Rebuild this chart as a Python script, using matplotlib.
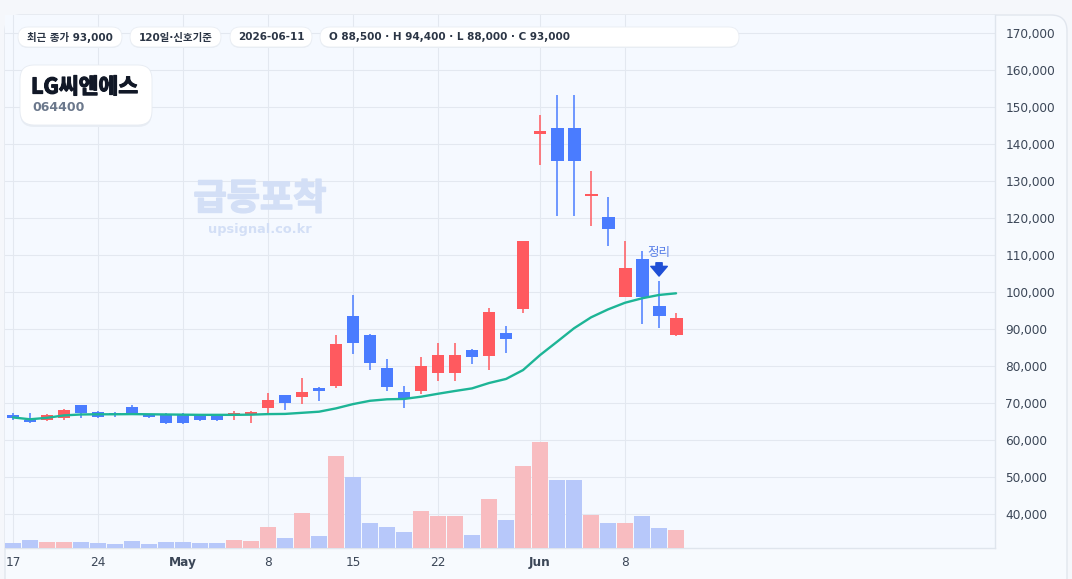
import matplotlib
matplotlib.use("Agg")
import matplotlib.pyplot as plt
import matplotlib.patheffects as pe
import numpy as np
import pandas as pd
from matplotlib.patches import FancyBboxPatch
from matplotlib.transforms import IdentityTransform
from matplotlib.ticker import FuncFormatter

plt.rcParams['font.family'] = ['DejaVu Sans', 'Noto Sans CJK KR']

# trading days shown (weekends skipped)
dates = pd.bdate_range("2026-04-17", "2026-06-11")

opens = [66800, 65400, 65500, 66000, 69450, 67550, 67300, 68900, 67000, 67000,
         67000, 66750, 66700, 66700, 66750, 68750, 72150, 71700, 74050, 74600,
         93500, 88400, 79450, 72950, 73300, 78200, 78200, 84300, 82800, 88900,
         95400, 142800, 144300, 144300, 125900, 120250, 98750, 108900, 96200, 88500]
highs = [67300, 67300, 67000, 68400, 69500, 67750, 67550, 69450, 67050, 67300,
         67300, 66950, 66950, 67850, 67850, 72700, 72200, 76750, 74300, 88400,
         99200, 88650, 81900, 74600, 82450, 86200, 86200, 84600, 95700, 90800,
         113800, 147850, 153250, 153250, 132800, 125650, 113800, 111100, 103000, 94400]
lows = [65500, 64600, 65200, 65500, 66000, 66000, 66300, 66950, 66000, 64300,
        64300, 65200, 65200, 65400, 64700, 67000, 68200, 69800, 70600, 74050,
        83300, 79000, 73300, 68750, 72500, 76000, 76000, 80600, 79000, 83600,
        94400, 134400, 120550, 120550, 117900, 112500, 98700, 91450, 90350, 88000]
closes = [66000, 64900, 66750, 68100, 67400, 66300, 66700, 67000, 66300, 64600,
          64600, 65400, 65400, 66850, 67550, 70800, 70100, 72950, 73300, 85950,
          86300, 80900, 74400, 71150, 80000, 82950, 82950, 82500, 94600, 87400,
          113800, 143500, 135500, 135500, 126100, 117100, 106500, 98750, 93600, 93000]
volumes = [47000, 77000, 57000, 57000, 57000, 47000, 37000, 67000, 37000, 57000,
           57000, 47000, 47000, 77000, 67000, 207000, 97000, 347000, 117000, 917000,
           707000, 247000, 207000, 157000, 367000, 317000, 317000, 127000, 487000, 277000,
           817000, 1057000, 677000, 677000, 327000, 247000, 247000, 317000, 197000, 177000]
ma_line = [66100, 65600, 66000, 66650, 66900, 66950, 66950, 67000, 66950, 66900,
           66850, 66800, 66800, 66800, 66850, 67000, 67050, 67350, 67650, 68550,
           69700, 70600, 71000, 71100, 71700, 72500, 73250, 73950, 75400, 76500,
           78900, 82950, 86550, 90200, 93150, 95300, 97100, 98300, 99200, 99650]

tick_dates = ["2026-04-17", "2026-04-24", "2026-05-01", "2026-05-08",
              "2026-05-15", "2026-05-22", "2026-06-01", "2026-06-08"]
tick_labels = ["17", "24", "May", "8", "15", "22", "Jun", "8"]
price_ticks = list(range(40000, 170001, 10000))

header_pills = ["최근 종가 93,000", "120일·신호기준", "2026-06-11",
                "O 88,500 · H 94,400 · L 88,000 · C 93,000"]
stock_name = "LG씨엔에스"
stock_code = "064400"

RED, BLUE = '#FF5A5F', '#4A7CFF'
RED_V, BLUE_V = '#F8BCC0', '#B7C8FA'
TEXT = '#2B3545'

W, H = 1072, 579


def fx(px):
    return px / W


def fy(py):
    return 1 - py / H


def rbox(fig, x0, y0, x1, y1, r, fc, ec='none', lw=0.8, z=1):
    p = FancyBboxPatch((x0, H - y1), x1 - x0, y1 - y0,
                       boxstyle=f"round,pad=0,rounding_size={r}",
                       transform=IdentityTransform(), fc=fc, ec=ec, lw=lw, zorder=z)
    fig.add_artist(p)
    return p


def thick(color, w):
    # fake a heavier weight for the CJK glyphs
    return [pe.withStroke(linewidth=w, foreground=color)]


fig = plt.figure(figsize=(W / 100, H / 100), dpi=100, facecolor='#F5F7FB')
rbox(fig, 5, 15, 1067, 620, 16, '#F7FAFE', '#E1E6EE', 1.0, z=-5)

ax = fig.add_axes([fx(5), fy(548), fx(995) - fx(5), fy(15) - fy(548)])
ax.set_facecolor('#F5F9FF')
ax_vol = ax.twinx()

x = np.arange(len(dates))
o = np.array(opens)
c = np.array(closes)
up = c >= o
colors = np.where(up, RED, BLUE)
vol_colors = np.where(up, RED_V, BLUE_V)

# candles
ax.vlines(x, lows, highs, colors=colors, lw=1.1, zorder=3)
body_bottom = np.minimum(o, c)
body_h = np.maximum(np.abs(c - o), 500)
ax.bar(x, body_h, bottom=body_bottom, width=0.76, color=colors, zorder=4)

# moving average
ax.plot(x, ma_line, color='#1DB596', lw=1.7, zorder=5, solid_capstyle='round')

# volume overlay
ax_vol.bar(x, volumes, width=0.94, color=vol_colors, zorder=2)
ax_vol.set_ylim(0, max(volumes) / 0.198)
ax_vol.set_yticks([])
for s in ax_vol.spines.values():
    s.set_visible(False)

ax.set_xlim(-0.47, 57.76)
ax.set_ylim(30811, 174865)

ax.yaxis.tick_right()
ax.set_yticks(price_ticks)
ax.yaxis.set_major_formatter(FuncFormatter(lambda v, p: f"{v:,.0f}"))
ax.tick_params(axis='y', length=0, pad=7.5, labelsize=8.7, labelcolor='#3B4657')

tick_pos = [dates.get_loc(pd.Timestamp(d)) for d in tick_dates]
ax.set_xticks(tick_pos)
ax.set_xticklabels(tick_labels)
for lbl in ax.get_xticklabels():
    if lbl.get_text() in ("May", "Jun"):
        lbl.set_fontweight('bold')
ax.tick_params(axis='x', length=0, pad=6, labelsize=8.7, labelcolor='#3B4657')

ax.grid(True, color='#E3E8F0', lw=0.8)
ax.set_axisbelow(True)
for side in ('left', 'top'):
    ax.spines[side].set_visible(False)
for side in ('right', 'bottom'):
    ax.spines[side].set_color('#DFE5ED')
    ax.spines[side].set_linewidth(1.0)

# watermark
ax.text((260 - 5) / 990, (548 - 199) / 533, "급등포착", transform=ax.transAxes,
        ha='center', va='center', fontsize=26, fontweight='heavy',
        color='#D3DFF6', family=['Noto Sans CJK KR'], zorder=1,
        path_effects=thick('#D3DFF6', 1.2))
ax.text((260 - 5) / 990, (548 - 229) / 533, "upsignal.co.kr", transform=ax.transAxes,
        ha='center', va='center', fontsize=9.3, fontweight='bold',
        color='#D3DFF6', zorder=1)

# signal marker
ax.annotate('', xy=(38, highs[38] + 1300), xytext=(38, highs[38] + 4900),
            arrowprops=dict(arrowstyle='simple,head_width=0.85,head_length=0.5,tail_width=0.32',
                            fc='#1F4FD6', ec='#1F4FD6', mutation_scale=14,
                            shrinkA=0, shrinkB=0), zorder=6)
ax.text(38, highs[38] + 7600, "정리", ha='center', va='center', fontsize=9,
        color='#5A80E8', zorder=6)

# header pills
pill_spans = [(18, 122), (130, 221), (230, 312), (320, 739)]
for (x0, x1), txt in zip(pill_spans, header_pills):
    rbox(fig, x0, 28, x1, 48, 10, '#E8EDF4', z=2)
    rbox(fig, x0, 27, x1, 47, 10, 'white', '#E9EDF3', 0.6, z=3)
    if x1 - x0 > 200:
        fig.text(fx(x0 + 9), fy(37.5), txt, ha='left', va='center', fontsize=7.5,
                 fontweight='bold', color=TEXT, zorder=4)
    else:
        fig.text(fx((x0 + x1) / 2), fy(37.5), txt, ha='center', va='center', fontsize=7.5,
                 fontweight='bold', color=TEXT, zorder=4)

# name card
rbox(fig, 20, 67, 152, 127, 14, '#E8EDF4', z=2)
rbox(fig, 20, 65, 152, 125, 14, 'white', '#E6EBF2', 0.6, z=3)
fig.text(fx(31), fy(87), stock_name, ha='left', va='center', fontsize=15.5,
         fontweight='heavy', color='#111827', family=['Noto Sans CJK KR'], zorder=4,
         path_effects=thick('#111827', 0.9))
fig.text(fx(32), fy(107.5), stock_code, ha='left', va='center', fontsize=9,
         fontweight='bold', color='#6B788C', zorder=4)

fig.savefig("out.png", dpi=100, facecolor=fig.get_facecolor())
